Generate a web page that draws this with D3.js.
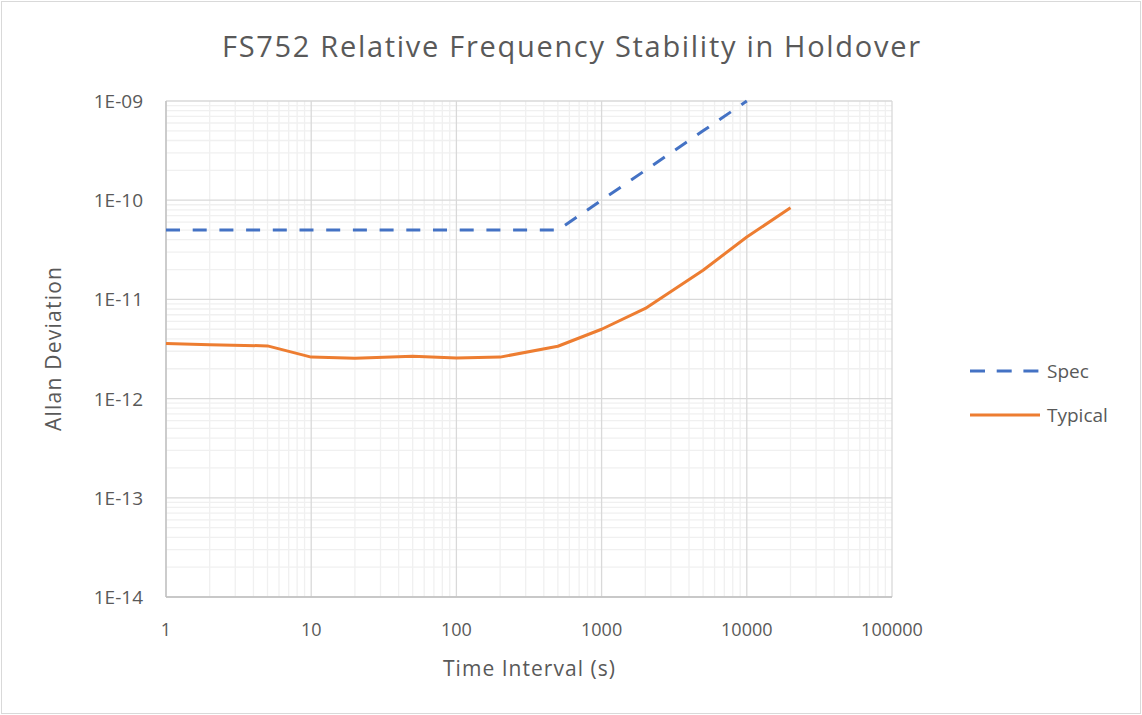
<!DOCTYPE html>
<html>
<head>
<meta charset="utf-8">
<script src="https://cdn.jsdelivr.net/npm/d3@7"></script>
<style>
body { margin: 0; background: #fff; }
svg text { font-family: "Open Sans", Lato, sans-serif; fill: #595959; }
</style>
</head>
<body>
<svg id="myGraph" width="1142" height="715"></svg>
<script>
// data
var specTau = [1, 2, 5, 10, 20, 50, 100, 200, 500, 1000, 2000, 5000, 10000];
var specVals = [5e-11, 5e-11, 5e-11, 5e-11, 5e-11, 5e-11, 5e-11, 5e-11, 5e-11, 1e-10, 2e-10, 5e-10, 1e-9];
var typTau = [1, 2, 5, 10, 20, 50, 100, 200, 500, 1000, 2000, 5000, 10000, 20000];
var typVals = [3.6e-12, 3.5e-12, 3.4e-12, 2.62e-12, 2.55e-12, 2.67e-12, 2.57e-12, 2.62e-12, 3.37e-12, 5.0e-12, 8.1e-12, 1.97e-11, 4.25e-11, 8.4e-11];
var xTicks = [1, 10, 100, 1000, 10000, 100000];
var xTickLabels = ["1", "10", "100", "1000", "10000", "100000"];
var yTicks = [1e-14, 1e-13, 1e-12, 1e-11, 1e-10, 1e-9];
var yTickLabels = ["1E-14", "1E-13", "1E-12", "1E-11", "1E-10", "1E-09"];
var seriesNames = ["Spec", "Typical"];
var seriesColors = ["#4472C4", "#ED7D31"];

var svg = d3.select("#myGraph");

// outer border
svg.append("rect")
    .attr("x", 1.5).attr("y", 1.5)
    .attr("width", 1139).attr("height", 712)
    .attr("fill", "#fff")
    .attr("stroke", "#d9d9d9")
    .attr("stroke-width", 1);

var plotL = 166, plotR = 892, plotT = 101, plotB = 597;

var x = d3.scaleLog().domain([1, 100000]).range([plotL, plotR]);
var y = d3.scaleLog().domain([1e-14, 1e-9]).range([plotB, plotT]);

// minor grid lines
var xMinor = [], yMinor = [];
for (var d = 0; d < 5; d++) {
    for (var m = 2; m <= 9; m++) {
        xMinor.push(m * Math.pow(10, d));
        yMinor.push(m * Math.pow(10, -14 + d));
    }
}
var grid = svg.append("g");
grid.selectAll(".xminor").data(xMinor).enter().append("line")
    .attr("x1", function(d){ return x(d); }).attr("x2", function(d){ return x(d); })
    .attr("y1", plotT).attr("y2", plotB)
    .attr("stroke", "#f0f0f0").attr("stroke-width", 1.3);
grid.selectAll(".yminor").data(yMinor).enter().append("line")
    .attr("x1", plotL).attr("x2", plotR)
    .attr("y1", function(d){ return y(d); }).attr("y2", function(d){ return y(d); })
    .attr("stroke", "#f0f0f0").attr("stroke-width", 1.3);

// major grid lines
grid.selectAll(".xmajor").data(xTicks).enter().append("line")
    .attr("x1", function(d){ return x(d); }).attr("x2", function(d){ return x(d); })
    .attr("y1", plotT).attr("y2", plotB)
    .attr("stroke", "#d9d9d9").attr("stroke-width", 1.3);
grid.selectAll(".ymajor").data(yTicks).enter().append("line")
    .attr("x1", plotL).attr("x2", plotR)
    .attr("y1", function(d){ return y(d); }).attr("y2", function(d){ return y(d); })
    .attr("stroke", "#d9d9d9").attr("stroke-width", 1.3);

// axis lines
svg.append("line").attr("x1", plotL).attr("x2", plotL).attr("y1", plotT).attr("y2", plotB)
    .attr("stroke", "#bfbfbf").attr("stroke-width", 1.3);
svg.append("line").attr("x1", plotL).attr("x2", plotR).attr("y1", plotB).attr("y2", plotB)
    .attr("stroke", "#bfbfbf").attr("stroke-width", 1.3);

// tick labels
svg.selectAll(".xlab").data(xTicks).enter().append("text")
    .attr("x", function(d){ return x(d); })
    .attr("y", 636)
    .attr("text-anchor", "middle")
    .attr("font-size", 18)
    .text(function(d, i){ return xTickLabels[i]; });
svg.selectAll(".ylab").data(yTicks).enter().append("text")
    .attr("x", 143)
    .attr("y", function(d){ return y(d) + 7; })
    .attr("text-anchor", "end")
    .attr("font-size", 19)
    .text(function(d, i){ return yTickLabels[i]; });

// titles
svg.append("text")
    .attr("x", 571).attr("y", 57)
    .attr("text-anchor", "middle")
    .attr("font-size", 29)
    .attr("textLength", 698)
    .text("FS752 Relative Frequency Stability in Holdover");
svg.append("text")
    .attr("x", (plotL + plotR) / 2).attr("y", 676)
    .attr("text-anchor", "middle")
    .attr("font-size", 21)
    .attr("textLength", 172)
    .text("Time Interval (s)");
svg.append("text")
    .attr("transform", "translate(61," + ((plotT + plotB) / 2) + ") rotate(-90)")
    .attr("text-anchor", "middle")
    .attr("font-size", 21)
    .attr("textLength", 164)
    .text("Allan Deviation");

// series
var line = d3.line()
    .x(function(d){ return x(d[0]); })
    .y(function(d){ return y(d[1]); });

var specData = specTau.map(function(t, i){ return [t, specVals[i]]; });
var typData = typTau.map(function(t, i){ return [t, typVals[i]]; });

svg.append("path").datum(typData)
    .attr("d", line)
    .attr("fill", "none")
    .attr("stroke", seriesColors[1])
    .attr("stroke-width", 3)
    .attr("stroke-linejoin", "round");

svg.append("path").datum(specData)
    .attr("d", line)
    .attr("fill", "none")
    .attr("stroke", seriesColors[0])
    .attr("stroke-width", 3)
    .attr("stroke-dasharray", "14,12.7")
    .attr("stroke-linejoin", "round");

// legend
var legend = svg.selectAll(".legend").data(seriesNames).enter().append("g")
    .attr("transform", function(d, i){ return "translate(970," + (371 + i * 44) + ")"; });
legend.append("line")
    .attr("x1", 0).attr("x2", 70).attr("y1", 0).attr("y2", 0)
    .attr("stroke", function(d, i){ return seriesColors[i]; })
    .attr("stroke-width", 3)
    .attr("stroke-dasharray", function(d, i){ return i === 0 ? "15,11.7" : null; });
legend.append("text")
    .attr("x", 77).attr("y", 7)
    .attr("font-size", 19)
    .text(function(d){ return d; });
</script>
</body>
</html>
